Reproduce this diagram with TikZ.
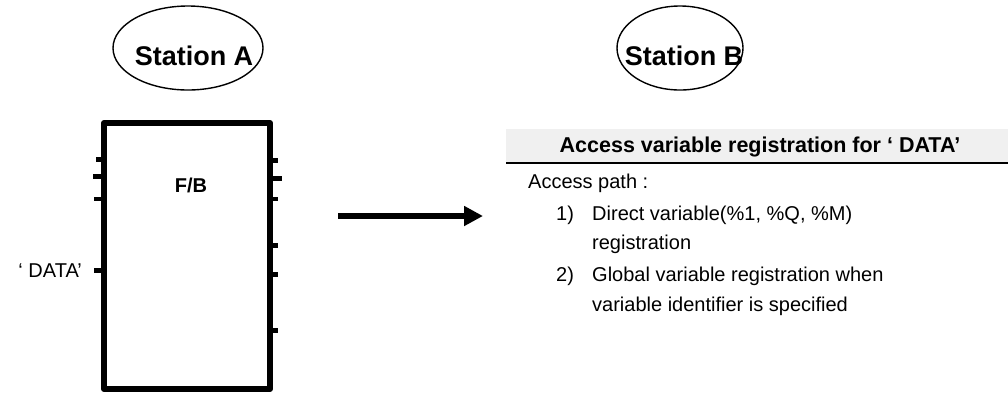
\documentclass[tikz,border=0pt]{standalone}
\usepackage{fontspec}
\setmainfont{Liberation Sans}
\usetikzlibrary{shapes.geometric,arrows.meta}
\definecolor{bandgray}{RGB}{240,240,240}
\tikzset{
  stationell/.style={draw, line width=1.4pt, ellipse, inner sep=0pt},
  stationtxt/.style={anchor=base, inner sep=0pt, font=\fontsize{27}{32}\selectfont\bfseries},
  fbbox/.style={draw, line width=6pt, line join=round, rectangle, inner sep=0pt},
  pinline/.style={line width=5pt, line cap=butt},
  thinpin/.style={line width=4pt, line cap=butt},
  bodytxt/.style={anchor=base west, inner sep=0pt, font=\fontsize{20}{24}\selectfont},
  bigarrow/.style={line width=5.5pt, -{Triangle[length=19pt,width=19pt]}},
}
\begin{document}
\begin{tikzpicture}[x=1pt,y=-1pt]
\useasboundingbox (0,0) rectangle (1008,392);
% stations
\node[stationell, minimum width=150pt, minimum height=84pt] (staA) at (188,48) {};
\node[stationtxt] (staAtxt) at (194,65) {Station A};
\node[stationell, minimum width=126pt, minimum height=84pt] (staB) at (680,48) {};
\node[stationtxt] (staBtxt) at (684,65) {Station B};
% function block
\node[fbbox, minimum width=166pt, minimum height=266pt] (fb) at (187,256) {};
\node[anchor=base, inner sep=0pt, font=\fontsize{20}{24}\selectfont\bfseries] (fbtxt) at (191,192) {F/B};
% left pins
\draw[pinline] (104,159) -- (96,159);
\draw[pinline] (104,176) -- (93,176);
\draw[thinpin] (104,199) -- (94,199);
\draw[pinline] (104,270) -- (94,270);
% right pins
\draw[pinline] (270,160) -- (278,160);
\draw[pinline] (270,178) -- (282,178);
\draw[thinpin] (270,199) -- (278,199);
\draw[pinline] (270,245) -- (278,245);
\draw[pinline] (270,274) -- (278,274);
\draw[pinline] (270,330) -- (278,330);
\node[anchor=base east, inner sep=0pt, font=\fontsize{20}{24}\selectfont] (datalbl) at (82,277) {‘ DATA’};
% arrow
\coordinate (arrS) at (338,216);
\coordinate (arrE) at (483,216);
\draw[bigarrow] (arrS) -- (arrE);
% header band
\fill[bandgray] (506,129) rectangle (1008,163);
\draw[line width=2pt] (506,163) -- (1008,163);
\node[anchor=base, inner sep=0pt, font=\fontsize{21.5}{25}\selectfont\bfseries] (hdr) at (760,152) {Access variable registration for ‘ DATA’};
% body text
\node[bodytxt] (ap) at (528,188) {Access path :};
\node[bodytxt] (n1) at (556,220) {1)};
\node[bodytxt] (t1a) at (592,220) {Direct variable(\%1, \%Q, \%M)};
\node[bodytxt] (t1b) at (592,249) {registration};
\node[bodytxt] (n2) at (556,281) {2)};
\node[bodytxt] (t2a) at (592,281) {Global variable registration when};
\node[bodytxt] (t2b) at (592,311) {variable identifier is specified};
\end{tikzpicture}
\end{document}
